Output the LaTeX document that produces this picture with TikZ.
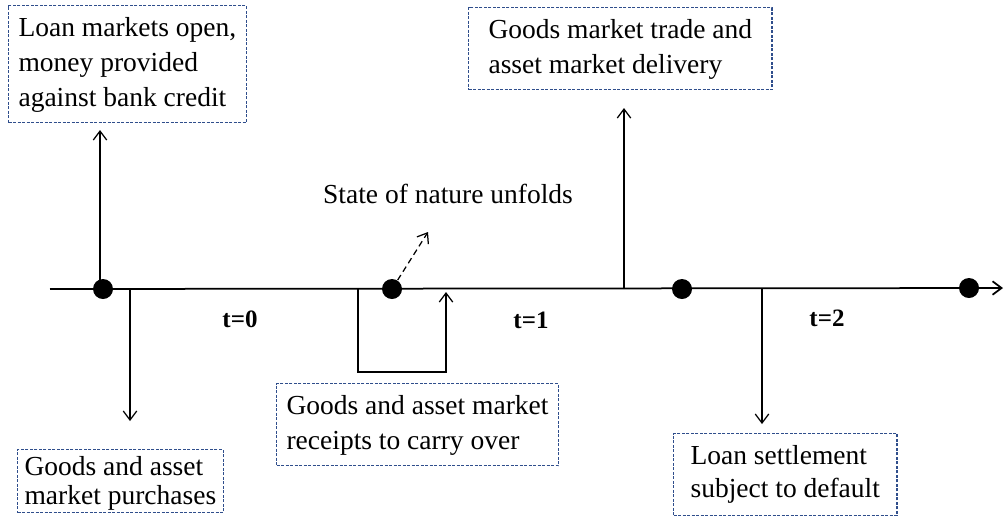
\documentclass[tikz,border=0pt]{standalone}
\usepackage{fontspec}
\setmainfont{Liberation Serif}
\usetikzlibrary{arrows.meta}
\definecolor{boxblue}{RGB}{47,78,140}
\newlength\pxu
\setlength\pxu{0.4pt}
\newcommand\bxtext[4][14pt]{\parbox[c][\dimexpr #3\pxu\relax][t]{\dimexpr #2\pxu\relax}{\baselineskip=#1\lineskiplimit=-10pt #4}}
\tikzset{
  infobox/.style={draw=boxblue, line width=0.45pt, dash pattern=on 1.2pt off 0.6pt,
    anchor=north west, inner ysep=4.8pt, fill=white},
  tdot/.style={circle, fill=black, minimum size=8pt, inner sep=0pt},
  arr/.style={line width=0.5pt, -{Straight Barb[length=3.6pt,width=5.4pt]}},
  axisline/.style={line width=0.7pt, -{Straight Barb[length=3.6pt,width=5.4pt]}},
  tlabel/.style={font=\bfseries, anchor=base, inner sep=0pt},
}
\begin{document}
\begin{tikzpicture}[x=0.4pt, y=-0.4pt, font=\fontsize{11}{14}\selectfont]
\useasboundingbox (0,0) rectangle (1006,523);

% axis
\coordinate (axL) at (50,289);
\coordinate (axR) at (1003,288);
\draw[axisline] (axL) -- (axR);

% dots
\node[tdot] (d0) at (103,289) {};
\node[tdot] (d1) at (392,289) {};
\node[tdot] (d2) at (682,289) {};
\node[tdot] (d3) at (969,288) {};

% boxes (x,y = top-left in px; width/height reduced by paddings)
\node[infobox, inner xsep=4pt] (b1) at (8,5)
  {\bxtext{230}{93}{\hbox{Loan markets open,}\hbox{money provided}\hbox{against bank credit}}};
\node[infobox, inner xsep=2.8pt, inner ysep=2.8pt] (b2) at (17,449)
  {\bxtext[11.6pt]{214}{49}{\hbox{Goods and asset}\hbox{market purchases}}};
\node[infobox, inner xsep=4pt] (b3) at (276,383)
  {\bxtext{261}{58}{\hbox{Goods and asset market}\hbox{receipts to carry over}}};
\node[infobox, inner xsep=8pt] (b4) at (468,7)
  {\bxtext{259}{58}{\hbox{Goods market trade and}\hbox{asset market delivery}}};
\node[infobox, inner xsep=6.8pt] (b5) at (673,433)
  {\bxtext[13pt]{192}{58}{\hbox{Loan settlement}\hbox{subject to default}}};

% arrow anchors on the axis
\coordinate (p1) at (100,289);
\coordinate (p1e) at (100,130);
\coordinate (p2) at (130,289);
\coordinate (p2e) at (130,421);
\coordinate (p3) at (358,289);
\coordinate (p3a) at (358,372);
\coordinate (p3b) at (446,372);
\coordinate (p3e) at (446,292);
\coordinate (p4) at (624,289);
\coordinate (p4e) at (624,108);
\coordinate (p5) at (762,289);
\coordinate (p5e) at (762,424);
\coordinate (ne) at (428,232);

\draw[arr] (p1) -- (p1e);
\draw[arr] (p2) -- (p2e);
\draw[arr] (p3) -- (p3a) -- (p3b) -- (p3e);
\draw[arr] (p4) -- (p4e);
\draw[arr] (p5) -- (p5e);
\draw[arr, dash pattern=on 2.4pt off 1.6pt] (d1) -- (ne);

% labels
\node[anchor=base, inner sep=0pt] (nat) at (448,203) {State of nature unfolds};
\node[tlabel] (t0) at (240,327) {t=0};
\node[tlabel] (t1) at (531,328) {t=1};
\node[tlabel] (t2) at (827,326) {t=2};
\end{tikzpicture}
\end{document}
